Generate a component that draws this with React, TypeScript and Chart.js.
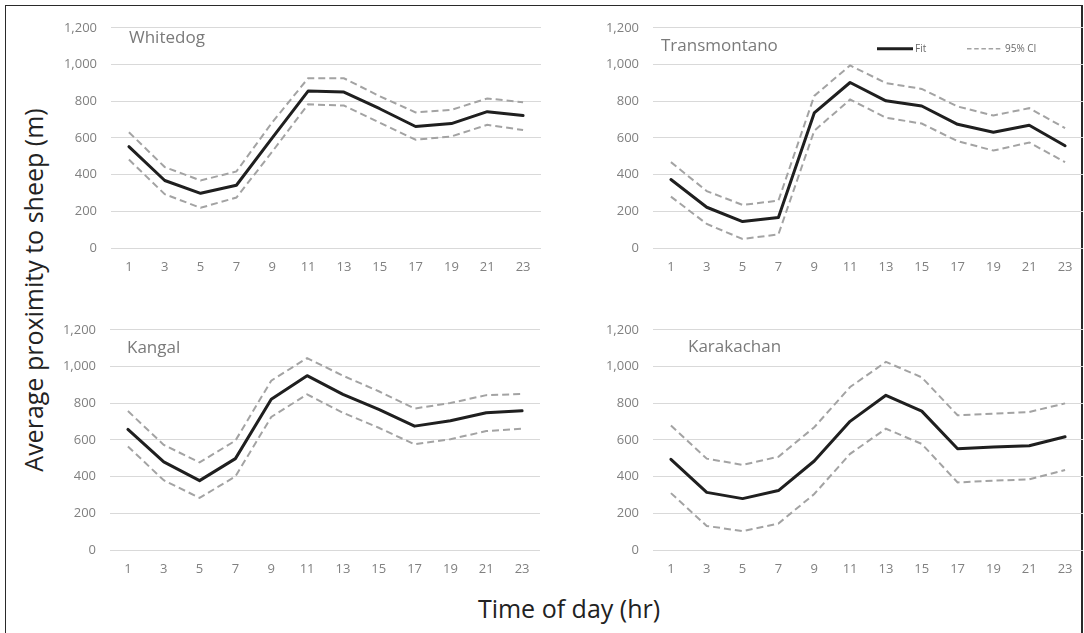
import React, { useEffect, useRef } from "react";
import { Chart, registerables } from "chart.js";

Chart.register(...registerables);

// ---- data ----
const hours = ["1", "3", "5", "7", "9", "11", "13", "15", "17", "19", "21", "23"];
const yTickValues = [0, 200, 400, 600, 800, 1000, 1200];

const whitedogFit = [552, 368, 298, 342, 600, 855, 850, 759, 662, 678, 743, 722];
const whitedogUpper = [631, 441, 368, 417, 685, 925, 925, 827, 739, 753, 815, 794];
const whitedogLower = [482, 293, 219, 275, 525, 783, 776, 683, 590, 608, 671, 643];

const transmontanoFit = [373, 222, 144, 166, 736, 902, 802, 774, 674, 631, 669, 557];
const transmontanoUpper = [468, 310, 235, 258, 829, 995, 899, 867, 771, 722, 762, 653];
const transmontanoLower = [280, 131, 49, 74, 639, 809, 710, 678, 582, 531, 575, 468];

const kangalFit = [657, 480, 378, 498, 822, 950, 848, 766, 675, 704, 748, 759];
const kangalUpper = [757, 573, 477, 596, 923, 1046, 950, 865, 771, 801, 844, 850];
const kangalLower = [564, 380, 284, 401, 725, 848, 748, 666, 576, 604, 648, 661];

const karakachanFit = [494, 314, 280, 324, 485, 701, 843, 757, 552, 561, 568, 617];
const karakachanUpper = [678, 498, 464, 508, 669, 888, 1025, 941, 734, 743, 752, 799];
const karakachanLower = [310, 131, 103, 144, 305, 524, 661, 578, 368, 378, 385, 436];

const legendLabels = ["Fit", "95% CI"];
const xTitle = "Time of day (hr)";
const yTitle = "Average proximity to sheep (m)";

// ---- styles ----
const FONT = "'Open Sans', 'Noto Sans', sans-serif";
const FIT_COLOR = "#1f1f1f";
const CI_COLOR = "#a3a3a3";
const TICK_COLOR = "#808080";
const GRID_COLOR = "#d9d9d9";
const TITLE_COLOR = "#7a7a7a";

type PanelDef = {
  name: string;
  fit: number[];
  upper: number[];
  lower: number[];
  left: number;
  top: number;
  width: number;
  rightPad: number;
  titleDx: number;
  titleDy: number;
  legend: boolean;
};

const Y_AXIS_W = 60;
const X_AXIS_H = 30;
const TOP_PAD = 14;
const PLOT_H = 228;

const panels: PanelDef[] = [
  { name: "Whitedog", fit: whitedogFit, upper: whitedogUpper, lower: whitedogLower,
    left: 51, top: 6, width: 492, rightPad: 2, titleDx: 18, titleDy: 15, legend: false },
  { name: "Transmontano", fit: transmontanoFit, upper: transmontanoUpper, lower: transmontanoLower,
    left: 593, top: 6, width: 491, rightPad: 1, titleDx: 8, titleDy: 23, legend: true },
  { name: "Kangal", fit: kangalFit, upper: kangalUpper, lower: kangalLower,
    left: 50, top: 308, width: 492, rightPad: 2, titleDx: 17, titleDy: 23, legend: false },
  { name: "Karakachan", fit: karakachanFit, upper: karakachanUpper, lower: karakachanLower,
    left: 593, top: 308, width: 491, rightPad: 1, titleDx: 35, titleDy: 22, legend: false },
];

function PanelChart({ def }: { def: PanelDef }) {
  const ref = useRef<HTMLCanvasElement | null>(null);
  const height = TOP_PAD + PLOT_H + X_AXIS_H;

  useEffect(() => {
    if (!ref.current) return;
    const overlay = {
      id: "panelOverlay",
      afterDraw(chart: any) {
        const { ctx, chartArea } = chart;
        ctx.save();
        ctx.fillStyle = TITLE_COLOR;
        ctx.font = `17px ${FONT}`;
        ctx.textBaseline = "alphabetic";
        ctx.textAlign = "left";
        ctx.fillText(def.name, chartArea.left + def.titleDx, chartArea.top + def.titleDy);
        if (def.legend) {
          const ly = chartArea.top + 21;
          const fx = chartArea.left + 224;
          ctx.strokeStyle = FIT_COLOR;
          ctx.lineWidth = 3;
          ctx.setLineDash([]);
          ctx.beginPath();
          ctx.moveTo(fx, ly);
          ctx.lineTo(fx + 36, ly);
          ctx.stroke();
          ctx.font = `10px ${FONT}`;
          ctx.fillStyle = "#6a6a6a";
          ctx.textBaseline = "middle";
          ctx.fillText(legendLabels[0], fx + 38, ly);
          const cx = chartArea.left + 314;
          ctx.strokeStyle = CI_COLOR;
          ctx.lineWidth = 1.5;
          ctx.setLineDash([4.5, 2.7]);
          ctx.beginPath();
          ctx.moveTo(cx, ly);
          ctx.lineTo(cx + 36, ly);
          ctx.stroke();
          ctx.setLineDash([]);
          ctx.fillText(legendLabels[1], cx + 38, ly);
        }
        ctx.restore();
      },
    };

    const chart = new Chart(ref.current, {
      type: "line",
      data: {
        labels: hours,
        datasets: [
          { label: "95% CI upper", data: def.upper, borderColor: CI_COLOR, borderWidth: 2,
            borderDash: [7, 4], pointRadius: 0, tension: 0, fill: false },
          { label: "95% CI lower", data: def.lower, borderColor: CI_COLOR, borderWidth: 2,
            borderDash: [7, 4], pointRadius: 0, tension: 0, fill: false },
          { label: "Fit", data: def.fit, borderColor: FIT_COLOR, borderWidth: 3,
            borderJoinStyle: "round", borderCapStyle: "round",
            pointRadius: 0, tension: 0, fill: false },
        ],
      },
      options: {
        responsive: false,
        animation: false,
        events: [],
        layout: { padding: { top: TOP_PAD, right: def.rightPad, left: 0, bottom: 0 } },
        plugins: {
          legend: { display: false },
          tooltip: { enabled: false },
          title: { display: false },
        },
        scales: {
          x: {
            offset: true,
            grid: { display: false, drawTicks: false },
            border: { display: false },
            ticks: {
              color: TICK_COLOR,
              font: { family: FONT, size: 13 },
              padding: 11,
              maxRotation: 0,
              autoSkip: false,
            },
            afterFit: (s: any) => { s.height = X_AXIS_H; },
          },
          y: {
            min: yTickValues[0],
            max: yTickValues[yTickValues.length - 1],
            afterBuildTicks: (s: any) => { s.ticks = yTickValues.map((v) => ({ value: v })); },
            grid: { color: GRID_COLOR, lineWidth: 1, drawTicks: false },
            border: { display: false },
            ticks: {
              color: TICK_COLOR,
              font: { family: FONT, size: 13 },
              padding: 14,
              callback: (v: any) => Number(v).toLocaleString("en-US"),
            },
            afterFit: (s: any) => { s.width = Y_AXIS_W; },
          },
        },
      },
      plugins: [overlay],
    });
    return () => chart.destroy();
  }, [def]);

  return (
    <canvas
      ref={ref}
      width={def.width}
      height={height}
      style={{ position: "absolute", left: def.left, top: def.top, width: def.width, height }}
    />
  );
}

export default function App() {
  return (
    <div
      style={{
        position: "fixed",
        left: 0,
        top: 0,
        width: 1084,
        height: 633,
        overflow: "hidden",
        background: "#fff",
        fontFamily: FONT,
      }}
    >
      <div
        style={{
          position: "absolute",
          left: 5,
          top: 5,
          width: 1078,
          height: 800,
          boxSizing: "border-box",
          border: "1px solid #2a2a2a",
          borderRightWidth: 2,
        }}
      />
      {panels.map((p) => (
        <PanelChart key={p.name} def={p} />
      ))}
      <div
        style={{
          position: "absolute",
          left: 569,
          top: 596,
          transform: "translateX(-50%)",
          fontSize: 25,
          lineHeight: "25px",
          color: "#222",
          whiteSpace: "nowrap",
        }}
      >
        {xTitle}
      </div>
      <div
        style={{
          position: "absolute",
          left: 33,
          top: 290,
          transform: "translate(-50%, -50%) rotate(-90deg)",
          fontSize: 25,
          lineHeight: "25px",
          color: "#222",
          whiteSpace: "nowrap",
        }}
      >
        {yTitle}
      </div>
    </div>
  );
}
